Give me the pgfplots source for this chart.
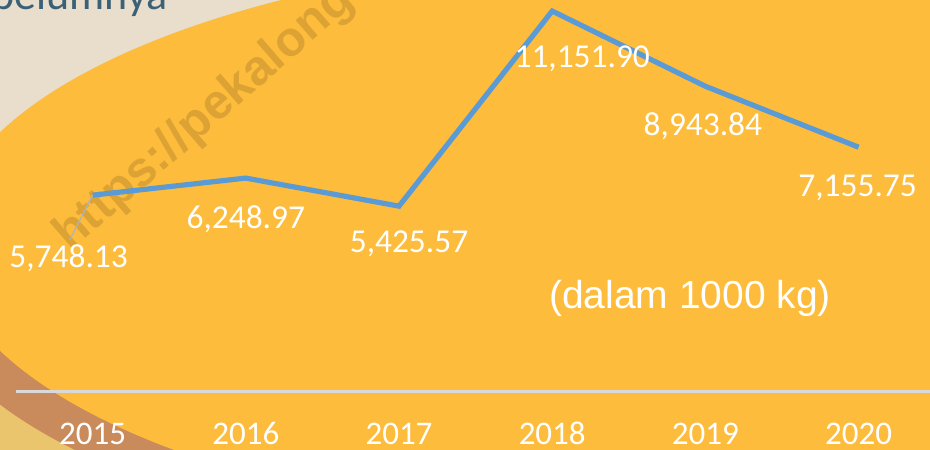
\documentclass[border=0pt]{standalone}
\usepackage{fontspec}
\setmainfont{Carlito}
\newfontfamily\arialfont{Liberation Sans}
\usepackage{pgfplots}
\pgfplotsset{compat=1.18}

\definecolor{bgbeige}{RGB}{233,221,203}
\definecolor{bgorange}{RGB}{253,188,60}
\definecolor{bgbrown}{RGB}{201,138,92}
\definecolor{bgyellow}{RGB}{235,196,110}
\definecolor{titleblue}{RGB}{59,97,121}
\definecolor{lineblue}{RGB}{91,155,213}
\definecolor{axisgray}{RGB}{217,217,217}
\definecolor{leadgray}{RGB}{170,180,194}

\begin{document}
\begin{tikzpicture}
% frame: 930 x 449 px, 1 px = 0.5pt
\path[use as bounding box, clip] (0,0) rectangle (465pt,-224.5pt);

\begin{scope}[x=0.5pt, y=-0.5pt]
  % background shapes
  \fill[bgbeige] (-10,-10) rectangle (940,300);
  \fill[bgyellow] (-10,300) rectangle (940,460);
  \fill[bgbrown] (657,272.5) ellipse [x radius=739, y radius=288];
  \fill[bgorange] (684,241.5) ellipse [x radius=739, y radius=288];
  % heading cut off at top
  \node[anchor=base east, inner sep=0pt, text=titleblue,
        font=\fontsize{22}{24}\selectfont] at (168,10) {belumnya};
  % watermark
  \node[anchor=base west, inner sep=0pt, rotate=41, text=black, text opacity=0.13,
        font=\arialfont\bfseries\fontsize{24.5}{27}\selectfont]
        at (70,252) {https://pekalongankota.bps.go.id};
  % x axis line
  \draw[axisgray, line width=1.5pt] (16,391) -- (935,391);
\end{scope}

\begin{axis}[
    at={(0,0)}, anchor=north west,
    width=465pt, height=224.5pt, scale only axis,
    xmin=-0.6044, xmax=5.466,
    ymin=-1702, ymax=11476,
    axis line style={draw=none},
    ytick=\empty,
    xtick={0,1,2,3,4,5},
    xticklabels={2015,2016,2017,2018,2019,2020},
    major tick length=0pt,
    xticklabel style={anchor=base, yshift=2.5pt, text=white,
                      font=\fontsize{16.5}{18}\selectfont},
    clip=false
]
\addplot[lineblue, line width=2.6pt, line join=miter, mark=none] coordinates {
    (0,5748.13) (1,6248.97) (2,5425.57) (3,11151.90) (4,8943.84) (5,7155.75)
};
% data labels
\draw[leadgray, line width=0.6pt] (axis cs:0,5748.13) -- ++(-11.5pt,-22.5pt);
\begin{scope}[every node/.style={anchor=base, inner sep=0pt, text=white,
                                 font=\fontsize{16.7}{18}\selectfont}]
\node[xshift=-12pt,  yshift=-36pt]   at (axis cs:0,5748.13)  {5,748.13};
\node[xshift=0pt,    yshift=-25pt]   at (axis cs:1,6248.97)  {6,248.97};
\node[xshift=5pt,    yshift=-23pt]   at (axis cs:2,5425.57)  {5,425.57};
\node[xshift=15pt,   yshift=-28pt]   at (axis cs:3,11151.90) {11,151.90};
\node[xshift=-1.25pt,yshift=-24.5pt] at (axis cs:4,8943.84)  {8,943.84};
\node[xshift=-0.5pt, yshift=-24.5pt] at (axis cs:5,7155.75)  {7,155.75};
\end{scope}
\end{axis}

% unit note
\begin{scope}[x=0.5pt, y=-0.5pt]
  \node[anchor=base, inner sep=0pt, text=white,
        font=\arialfont\fontsize{19.5}{22}\selectfont] at (690,308) {(dalam 1000 kg)};
\end{scope}
\end{tikzpicture}
\end{document}
